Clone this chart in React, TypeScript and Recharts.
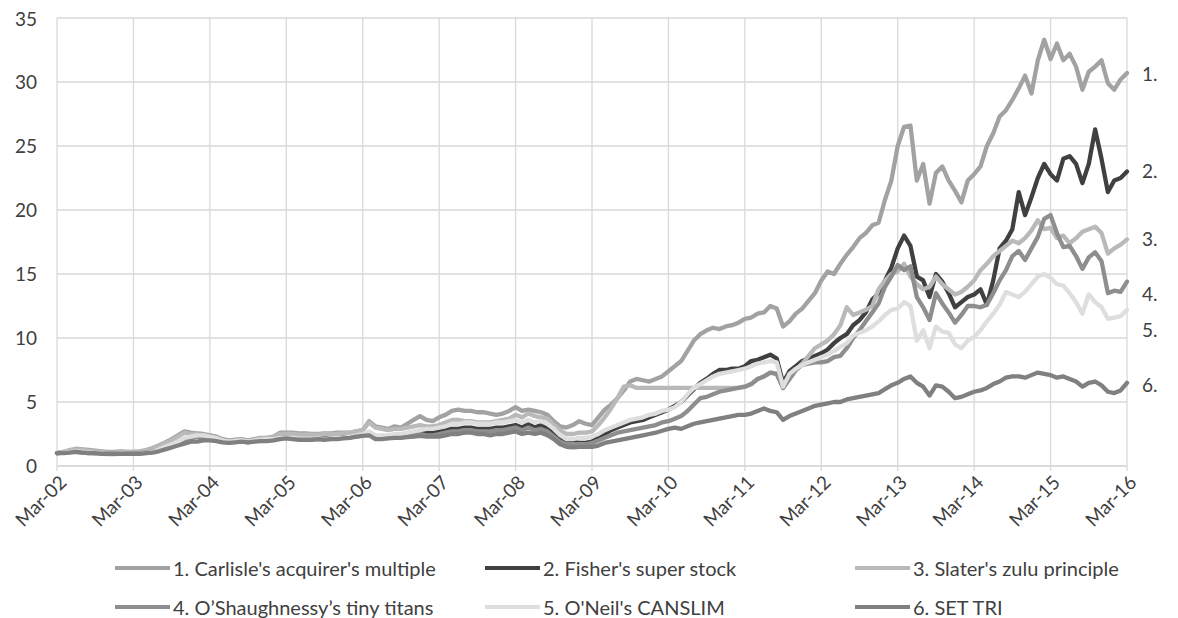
import React from "react";
import { LineChart, Line, XAxis, YAxis, CartesianGrid, ReferenceDot } from "recharts";

const xTickLabels = ["Mar-02","Mar-03","Mar-04","Mar-05","Mar-06","Mar-07","Mar-08","Mar-09","Mar-10","Mar-11","Mar-12","Mar-13","Mar-14","Mar-15","Mar-16"];
const yTicks = [0, 5, 10, 15, 20, 25, 30, 35];

const seriesNames = [
  "1. Carlisle's acquirer's multiple",
  "2. Fisher's super stock",
  "3. Slater's zulu principle",
  "4. O\u2019Shaughnessy\u2019s tiny titans",
  "5. O'Neil's CANSLIM",
  "6. SET TRI",
];
const seriesColors = ["#a2a2a4", "#404040", "#b9b9b9", "#8e8e90", "#dedede", "#808080"];
const endLabels = ["1.", "2.", "3.", "4.", "5.", "6."];
const endLabelValues = [30.6, 23.0, 17.7, 13.4, 10.6, 6.3];

// monthly values, Mar-02 .. Mar-16
const s1 = [
  1.0,1.1,1.2,1.35,1.3,1.25,1.2,1.15,1.1,1.1,1.15,1.1,
  1.1,1.15,1.25,1.4,1.6,1.85,2.1,2.4,2.7,2.6,2.55,2.5,
  2.4,2.3,2.1,2.0,2.05,2.1,2.0,2.1,2.2,2.2,2.3,2.6,
  2.6,2.6,2.55,2.55,2.5,2.5,2.55,2.55,2.6,2.6,2.6,2.7,
  2.8,3.5,3.1,3.0,2.9,3.1,3.0,3.3,3.6,3.9,3.6,3.5,
  3.8,4.0,4.3,4.4,4.3,4.3,4.2,4.2,4.1,4.0,4.1,4.3,
  4.6,4.3,4.4,4.3,4.2,4.0,3.5,3.1,3.0,3.2,3.5,3.3,
  3.2,3.8,4.4,4.8,5.3,5.9,6.6,6.8,6.7,6.6,6.8,7.0,
  7.4,7.8,8.2,9.0,9.8,10.3,10.6,10.8,10.7,10.9,11.0,11.2,
  11.5,11.6,11.9,12.0,12.5,12.3,10.9,11.3,11.9,12.3,12.9,13.5,
  14.5,15.2,15.0,15.8,16.5,17.1,17.8,18.2,18.8,19.0,20.8,22.3,
  25.0,26.5,26.6,22.3,23.6,20.5,22.9,23.4,22.3,21.5,20.6,22.3,
  22.8,23.4,25.0,26.0,27.3,27.8,28.6,29.5,30.5,29.1,31.7,33.3,
  31.8,33.0,31.7,32.2,31.2,29.4,30.8,31.2,31.7,29.9,29.4,30.2,
  30.7,
];
const s2 = [
  1.0,1.05,1.1,1.15,1.1,1.05,1.0,1.0,0.95,0.95,1.0,1.0,
  1.0,1.0,1.05,1.15,1.3,1.45,1.6,1.8,2.0,2.2,2.3,2.3,
  2.3,2.2,2.0,1.9,1.95,2.0,1.9,2.0,2.0,2.05,2.1,2.2,
  2.2,2.2,2.15,2.1,2.1,2.15,2.15,2.2,2.2,2.25,2.3,2.4,
  2.5,2.6,2.3,2.3,2.3,2.4,2.4,2.5,2.6,2.7,2.6,2.6,
  2.7,2.8,2.9,2.9,3.0,3.0,2.9,2.9,2.9,3.0,3.0,3.1,
  3.2,3.0,3.3,3.0,3.2,2.9,2.6,2.2,1.9,1.9,1.8,1.8,
  1.9,2.2,2.5,2.8,3.0,3.2,3.4,3.5,3.6,3.8,4.0,4.2,
  4.4,4.7,5.0,5.5,6.0,6.5,6.8,7.2,7.5,7.5,7.6,7.6,
  7.8,8.2,8.3,8.5,8.7,8.4,6.5,7.4,7.8,8.2,8.4,8.6,
  8.8,9.1,9.6,10.0,10.3,11.0,11.4,12.0,13.0,13.5,14.5,15.5,
  17.0,18.0,17.2,14.8,14.5,13.2,15.0,14.4,13.5,12.4,12.8,13.2,
  13.4,13.8,12.6,14.5,17.0,17.6,18.5,21.4,19.6,21.0,22.5,23.6,
  22.8,22.3,24.0,24.2,23.6,22.1,23.6,26.3,24.0,21.4,22.3,22.5,
  23.0,
];
const s3 = [
  1.0,1.1,1.25,1.3,1.25,1.2,1.15,1.1,1.05,1.05,1.1,1.1,
  1.1,1.1,1.2,1.35,1.55,1.8,2.0,2.3,2.6,2.5,2.5,2.4,
  2.3,2.2,2.0,1.95,2.0,2.05,1.95,2.05,2.15,2.2,2.25,2.5,
  2.5,2.5,2.45,2.45,2.45,2.45,2.5,2.5,2.5,2.55,2.6,2.7,
  2.8,3.4,3.0,2.9,2.8,2.9,2.9,3.0,3.1,3.2,3.1,3.1,
  3.2,3.4,3.6,3.6,3.5,3.5,3.4,3.4,3.4,3.5,3.6,3.7,
  4.0,3.8,4.1,3.9,3.8,3.7,3.2,2.8,2.5,2.5,2.6,2.6,
  2.7,3.2,3.8,4.5,5.3,6.2,6.3,6.1,6.1,6.1,6.1,6.1,
  6.1,6.1,6.1,6.1,6.1,6.1,6.1,6.1,6.1,6.1,6.1,6.1,
  6.2,6.4,6.8,7.0,7.3,7.2,6.1,6.8,7.5,8.0,8.6,9.2,
  9.5,9.8,10.3,11.0,12.4,11.8,12.0,12.2,12.5,13.8,14.5,15.0,
  15.2,15.8,14.8,14.2,13.8,14.0,14.8,14.2,13.8,13.4,13.6,14.0,
  14.5,15.3,15.8,16.4,16.8,17.2,17.6,17.4,17.8,18.4,19.2,18.5,
  18.6,17.8,18.0,17.4,17.8,18.3,18.5,18.7,18.2,16.6,17.0,17.3,
  17.7,
];
const s4 = [
  1.0,1.05,1.1,1.1,1.05,1.0,1.0,0.95,0.95,0.95,0.95,1.0,
  1.0,1.0,1.05,1.15,1.3,1.45,1.6,1.8,2.0,2.2,2.3,2.3,
  2.2,2.1,1.95,1.85,1.9,1.95,1.85,1.95,2.0,2.0,2.05,2.2,
  2.2,2.15,2.1,2.1,2.1,2.1,2.1,2.15,2.2,2.2,2.25,2.3,
  2.4,2.6,2.2,2.2,2.2,2.3,2.3,2.3,2.4,2.5,2.4,2.4,
  2.5,2.6,2.7,2.7,2.8,2.8,2.7,2.7,2.7,2.8,2.8,2.9,
  3.0,2.8,3.0,2.8,2.9,2.7,2.3,1.9,1.7,1.7,1.7,1.7,
  1.8,2.0,2.2,2.4,2.6,2.7,2.8,2.9,3.0,3.1,3.2,3.4,
  3.5,3.7,3.9,4.3,4.8,5.3,5.4,5.6,5.8,5.9,6.0,6.1,
  6.2,6.4,6.8,7.0,7.3,7.2,6.1,6.8,7.5,7.9,8.0,8.1,
  8.1,8.2,8.5,8.6,9.2,10.0,10.6,11.3,12.0,12.7,14.0,14.8,
  15.7,15.3,15.6,13.2,12.4,11.4,13.5,12.7,12.0,11.2,11.8,12.5,
  12.5,12.4,12.6,13.5,14.5,15.3,16.4,16.8,16.1,17.0,17.9,19.3,
  19.6,18.2,17.1,17.2,16.4,15.4,16.3,16.7,16.0,13.5,13.7,13.6,
  14.4,
];
const s5 = [
  1.0,1.05,1.1,1.15,1.1,1.05,1.0,0.95,0.9,0.9,0.95,0.95,
  0.95,0.95,1.0,1.1,1.3,1.5,1.7,1.9,2.2,2.3,2.4,2.4,
  2.3,2.2,2.0,1.9,1.95,2.0,1.9,2.0,2.05,2.1,2.1,2.2,
  2.2,2.2,2.15,2.1,2.1,2.15,2.1,2.15,2.2,2.2,2.3,2.4,
  2.5,2.7,2.4,2.4,2.4,2.5,2.5,2.6,2.7,2.8,2.9,2.9,
  3.0,3.1,3.3,3.3,3.4,3.4,3.3,3.3,3.3,3.4,3.4,3.5,
  3.6,3.4,3.6,3.4,3.5,3.3,2.9,2.4,2.1,2.1,2.2,2.2,
  2.3,2.5,2.8,3.0,3.2,3.4,3.6,3.7,3.8,4.0,4.1,4.3,
  4.4,4.6,5.0,5.6,6.1,6.4,6.7,7.0,7.2,7.3,7.4,7.5,
  7.6,7.8,8.0,8.1,8.2,8.1,6.2,7.2,7.6,7.9,8.1,8.3,
  8.5,8.7,9.0,9.3,9.6,10.2,10.4,10.6,10.9,11.3,11.8,12.2,
  12.3,12.8,12.5,9.8,10.6,9.2,10.9,10.5,10.4,9.5,9.2,9.8,
  10.1,10.6,11.3,11.9,12.6,13.6,13.4,13.2,13.6,14.2,14.8,15.0,
  14.7,14.2,14.1,13.5,12.8,11.9,13.4,12.8,12.4,11.5,11.6,11.7,
  12.2,
];
const s6 = [
  1.0,1.0,1.05,1.1,1.05,1.0,1.0,0.95,0.95,0.95,0.95,0.95,
  0.95,0.95,1.0,1.05,1.15,1.3,1.45,1.6,1.75,1.9,1.9,2.0,
  2.0,1.95,1.85,1.8,1.85,1.9,1.85,1.9,1.95,1.95,2.0,2.1,
  2.15,2.1,2.05,2.05,2.05,2.1,2.05,2.1,2.1,2.15,2.2,2.3,
  2.35,2.4,2.1,2.1,2.15,2.2,2.2,2.25,2.3,2.35,2.3,2.3,
  2.3,2.4,2.5,2.5,2.6,2.6,2.5,2.5,2.4,2.5,2.5,2.6,
  2.7,2.5,2.6,2.5,2.6,2.4,2.1,1.7,1.5,1.45,1.5,1.5,
  1.5,1.6,1.8,1.9,2.0,2.1,2.2,2.3,2.4,2.5,2.6,2.75,
  2.9,3.0,2.9,3.1,3.3,3.4,3.5,3.6,3.7,3.8,3.9,4.0,
  4.0,4.1,4.3,4.5,4.3,4.2,3.6,3.9,4.1,4.3,4.5,4.7,
  4.8,4.9,5.0,5.0,5.2,5.3,5.4,5.5,5.6,5.7,6.0,6.3,
  6.5,6.8,7.0,6.5,6.2,5.5,6.3,6.2,5.8,5.3,5.4,5.6,
  5.8,5.9,6.1,6.4,6.6,6.9,7.0,7.0,6.9,7.1,7.3,7.2,
  7.1,6.9,7.0,6.8,6.6,6.2,6.5,6.6,6.3,5.8,5.7,5.9,
  6.5,
];

const allSeries = [s1, s2, s3, s4, s5, s6];
const keys = ["s1", "s2", "s3", "s4", "s5", "s6"];
const xTicks = xTickLabels.map((_, i) => i * 12);

const data = s1.map((_, m) => {
  const row: Record<string, number> = { m };
  keys.forEach((k, i) => (row[k] = allSeries[i][m]));
  return row;
});

const FONT = "Lato, 'Open Sans', sans-serif";
const TEXT = "#404040";

const XTick = (props: any) => {
  const { x, y, payload } = props;
  const label = xTickLabels[Math.round(payload.value / 12)];
  return (
    <g transform={`translate(${x + 6},${y + 6})`}>
      <text
        x={0}
        y={0}
        textAnchor="end"
        dy="0.35em"
        transform="rotate(-45)"
        fill={TEXT}
        fontSize={19}
        fontFamily={FONT}
      >
        {label}
      </text>
    </g>
  );
};

export default function App() {
  return (
    <div style={{ position: "relative", width: 1170, height: 610, fontFamily: FONT }}>
      <LineChart
        width={1170}
        height={610}
        data={data}
        margin={{ top: 10, right: 51, left: 0, bottom: 92 }}
      >
        <CartesianGrid stroke="#d9d9d9" strokeWidth={1.3} />
        <XAxis
          dataKey="m"
          type="number"
          domain={[0, 168]}
          ticks={xTicks}
          interval={0}
          height={60}
          tick={<XTick />}
          tickSize={5}
          tickMargin={2}
          axisLine={{ stroke: "#d9d9d9", strokeWidth: 1.3 }}
          tickLine={{ stroke: "#d9d9d9", strokeWidth: 1.3 }}
        />
        <YAxis
          type="number"
          domain={[0, 35]}
          ticks={yTicks}
          width={49}
          axisLine={false}
          tickLine={false}
          tickSize={0}
          tickMargin={20}
          tick={{ fill: TEXT, fontSize: 19, fontFamily: FONT }}
        />
        {keys.map((k, i) => (
          <Line
            key={k}
            type="linear"
            dataKey={k}
            stroke={seriesColors[i]}
            strokeWidth={4.3}
            dot={false}
            isAnimationActive={false}
            strokeLinejoin="round"
            strokeLinecap="round"
          />
        ))}
        {endLabels.map((lab, i) => (
          <ReferenceDot
            key={lab}
            x={168}
            y={endLabelValues[i]}
            r={0}
            fill="none"
            stroke="none"
            ifOverflow="visible"
            label={{ value: lab, position: "right", offset: 15, fill: TEXT, fontSize: 19, fontFamily: FONT }}
          />
        ))}
      </LineChart>
      <div
        style={{
          position: "absolute",
          left: 107,
          top: 540,
          display: "grid",
          gridTemplateColumns: "370px 370px 370px",
          rowGap: 0,
          fontSize: 20,
          color: TEXT,
        }}
      >
        {seriesNames.map((name, i) => (
          <div key={name} style={{ display: "flex", alignItems: "center", height: 39, whiteSpace: "nowrap" }}>
            <span style={{ display: "inline-block", width: 55, height: 4, background: seriesColors[i], marginRight: 3 }} />
            <span>{name}</span>
          </div>
        ))}
      </div>
    </div>
  );
}
